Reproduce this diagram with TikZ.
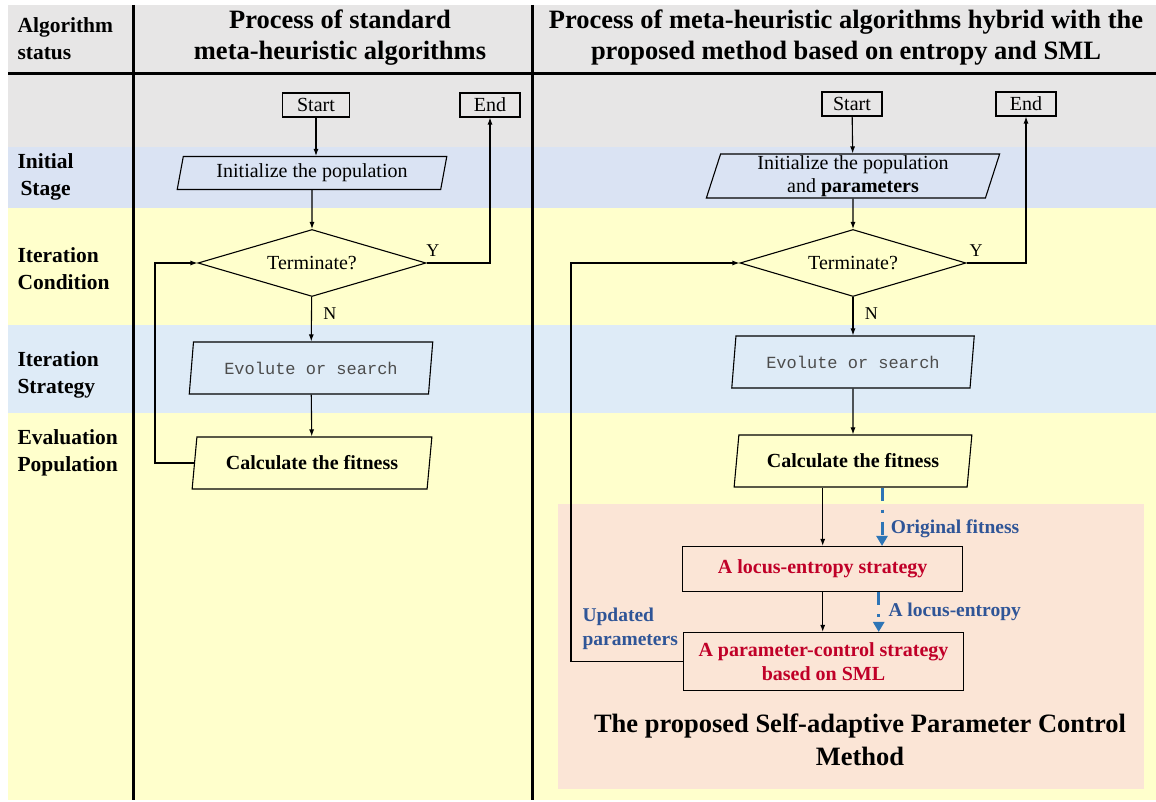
\documentclass[tikz,border=0pt]{standalone}
\usepackage{fontspec}
\setmainfont{Liberation Serif}
\setmonofont{Liberation Mono}
\usetikzlibrary{shapes.geometric,arrows.meta,positioning}

\definecolor{headgray}{RGB}{231,230,230}
\definecolor{bandblue}{RGB}{218,227,243}
\definecolor{bandlblue}{RGB}{222,235,247}
\definecolor{bandyellow}{RGB}{255,255,204}
\definecolor{methodpink}{RGB}{251,229,214}
\definecolor{stratred}{RGB}{192,0,40}
\definecolor{noteblue}{RGB}{47,85,151}
\definecolor{flowblue}{RGB}{46,117,182}

\tikzstyle{termbox} = [draw=black, line width=1.1pt, rectangle, inner sep=0pt,
    minimum height=24pt, font=\fontsize{20}{23}\selectfont]
\tikzstyle{iobox} = [draw=black, line width=1.1pt, trapezium, trapezium left angle=76,
    trapezium right angle=104, trapezium stretches=true, inner sep=0pt,
    align=center, font=\fontsize{20}{23}\selectfont]
\tikzstyle{decision} = [draw=black, line width=1.1pt, diamond, shape aspect=3.4,
    inner sep=0pt, font=\fontsize{20}{23}\selectfont]
\tikzstyle{stratbox} = [draw=black, line width=1.1pt, rectangle, inner sep=0pt,
    minimum width=280pt, text=stratred, align=center,
    font=\bfseries\fontsize{20}{24}\selectfont]
\tikzstyle{status} = [anchor=west, align=left, font=\bfseries\fontsize{21.5}{27}\selectfont]
\tikzstyle{colhead} = [align=center, font=\bfseries\fontsize{26.5}{31}\selectfont]
\tikzstyle{yn} = [font=\fontsize{18}{20}\selectfont]
\tikzstyle{note} = [anchor=west, align=left, text=noteblue,
    font=\bfseries\fontsize{19.5}{24}\selectfont]
\tikzstyle{arrow} = [line width=1.1pt, -{Latex[length=7pt,width=5pt]}]
\tikzstyle{bluearrow} = [draw=flowblue, line width=3pt,
    dash pattern=on 13pt off 9pt on 3pt off 9pt, -{Triangle[length=10pt,width=11pt]}]

\begin{document}
\begin{tikzpicture}[x=1pt, y=-1pt]
\useasboundingbox (0,0) rectangle (1156,802);
%------------ Bands ---------------------
\fill[headgray] (8,5) rectangle (1156,147);
\fill[bandblue] (8,147) rectangle (1156,208);
\fill[bandyellow] (8,208) rectangle (1156,325);
\fill[bandlblue] (8,325) rectangle (1156,413);
\fill[bandyellow] (8,413) rectangle (1156,800);
\fill[methodpink] (558,504) rectangle (1144,789);
\draw[line width=3pt] (8,74) -- (1156,74);
\draw[line width=3pt] (133,5) -- (133,800);
\draw[line width=3pt] (532,5) -- (532,800);

%------------ Header and status ---------------------
\node[colhead] (head1) at (340,37.5) {Process of standard\\meta-heuristic algorithms};
\node[colhead] (head2) at (846,37.5) {Process of meta-heuristic algorithms hybrid with the\\proposed method based on entropy and SML};
\node[status] (algst) at (14,38.5) {Algorithm\\status};
\node[status] (initst) at (14,176.5) {Initial\\\hspace*{3pt}Stage};
\node[status] (condst) at (14,269) {Iteration\\Condition};
\node[status] (stratst) at (14,375) {Iteration\\Strategy};
\node[status] (evalst) at (14,452.5) {Evaluation\\Population};

%------------ Standard process ---------------------
\node[termbox, minimum width=67pt] (start1) at (316,105) {Start};
\node[termbox, minimum width=60pt] (end1) at (490,105) {End};
\node[iobox, minimum width=270pt, minimum height=33pt] (init1) at (312,173) {Initialize the population};
\node[decision, minimum width=228pt, minimum height=67pt] (dec1) at (312,263) {Terminate?};
\node[iobox, minimum width=244pt, minimum height=52pt, text=black!70,
    font=\ttfamily\fontsize{17}{20}\selectfont] (evo1) at (311,368) {Evolute or search};
\node[iobox, minimum width=240pt, minimum height=52pt,
    font=\bfseries\fontsize{20}{23}\selectfont] (calc1) at (312,463) {Calculate the fitness};

\draw[arrow] (start1.south) -- (start1.south |- init1.north);
\draw[arrow] (init1) -- (dec1);
\draw[arrow] (dec1) -- node[yn, pos=0.37, right=8pt] {N} (evo1);
\draw[arrow] (evo1) -- (calc1);
\draw[arrow] (calc1.west) -- ++(-39,0) |- (dec1.west);
\draw[arrow] (dec1.east) -| node[yn, pos=0.05, above=3pt] {Y} (end1.south);

%------------ Hybrid process ---------------------
\node[termbox, minimum width=60pt] (start2) at (852,104) {Start};
\node[termbox, minimum width=60pt] (end2) at (1026,104) {End};
\node[iobox, minimum width=294pt, minimum height=44pt] (init2) at (853,176) {Initialize the population\\and \textbf{parameters}};
\node[decision, minimum width=226pt, minimum height=67pt] (dec2) at (853,263) {Terminate?};
\node[iobox, minimum width=243pt, minimum height=52pt, text=black!70,
    font=\ttfamily\fontsize{17}{20}\selectfont] (evo2) at (853,362) {Evolute or search};
\node[iobox, minimum width=238pt, minimum height=52pt,
    font=\bfseries\fontsize{20}{23}\selectfont] (calc2) at (853,461) {Calculate the fitness};
\node[stratbox, minimum height=45pt] (locus) at (822.7,569) {A locus-entropy strategy};
\node[stratbox, minimum height=58pt] (ctrl) at (823.5,661.5) {A parameter-control strategy\\based on SML};

\draw[arrow] (start2) -- (init2);
\draw[arrow] (init2) -- (dec2);
\draw[arrow] (dec2) -- node[yn, pos=0.42, right=8pt] {N} (evo2);
\draw[arrow] (evo2) -- (calc2);
\draw[arrow] (locus.north |- calc2.south) -- (locus.north);
\draw[arrow] (locus.south) -- (locus.south |- ctrl.north);
\draw[arrow] (ctrl.west) -- ++(-112,0) |- (dec2.west);
\draw[arrow] (dec2.east) -| node[yn, pos=0.08, above=3pt] {Y} (end2.south);
\draw[bluearrow] ([xshift=29pt]calc2.south) -- ([xshift=29pt]calc2.south |- locus.north)
    node[note, pos=0.7, right=4pt] {Original fitness};
\draw[bluearrow] ([xshift=56pt]locus.south) -- ([xshift=56pt]locus.south |- ctrl.north)
    node[note, midway, right=5pt] {A locus-entropy};
\node[note] (upd) at (579,628.5) {Updated\\parameters};

%------------ Method title ---------------------
\node[align=center, font=\bfseries\fontsize{26.5}{33}\selectfont] (method) at (860,740)
    {The proposed Self-adaptive Parameter Control\\Method};
\end{tikzpicture}
\end{document}
